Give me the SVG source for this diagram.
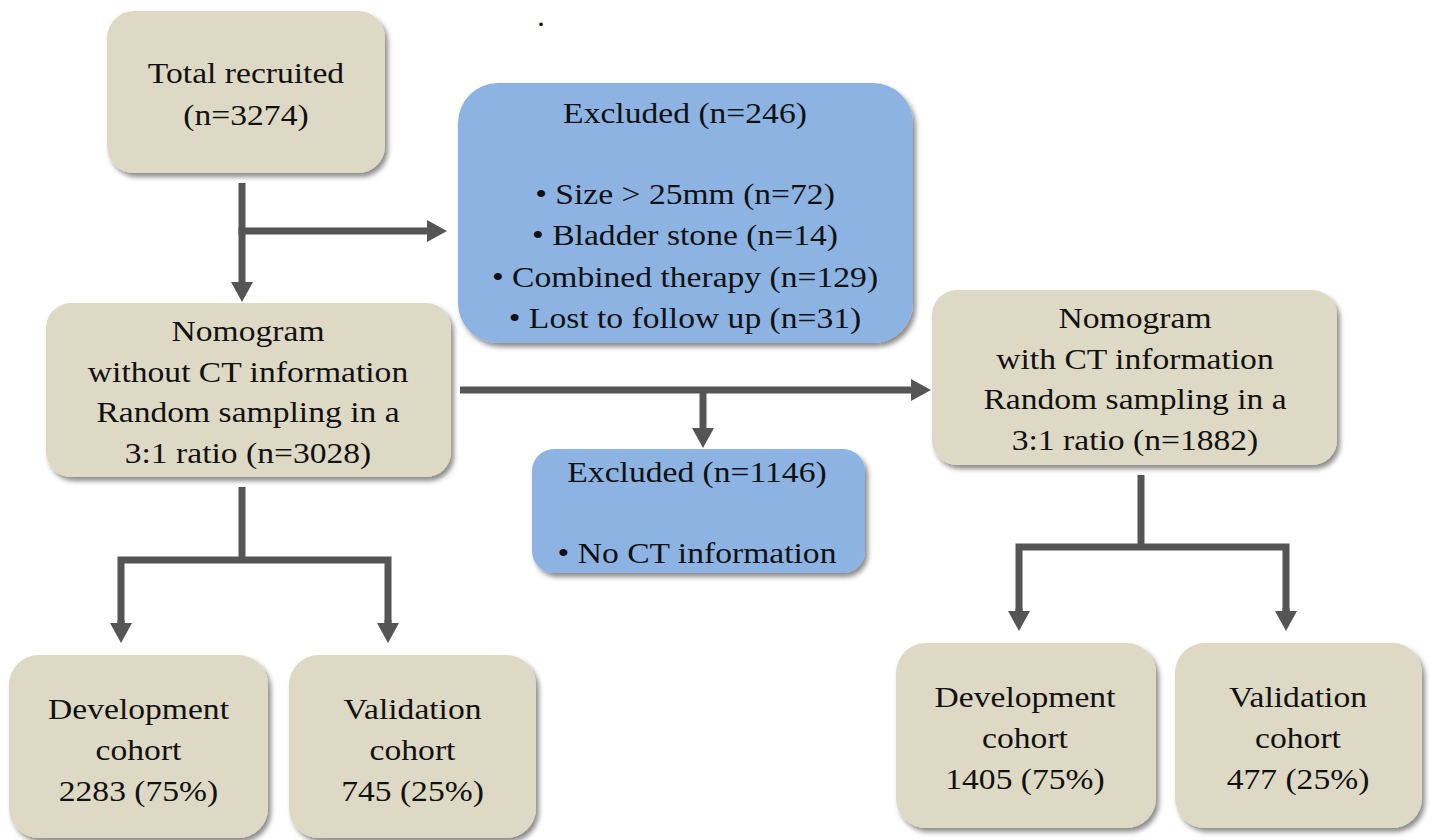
<svg xmlns="http://www.w3.org/2000/svg" width="1431" height="840" viewBox="0 0 1431 840">
<style>
.beige{fill:#DDD9C4;filter:url(#sh)}
.blue{fill:#8DB3E2;filter:url(#sh)}
text{font-family:"Liberation Serif","Times New Roman",serif;font-size:30px;fill:#111;text-anchor:middle}
.con{fill:none;stroke:#555555;stroke-width:7;stroke-linejoin:miter;stroke-linecap:butt}
</style>
<defs>
<filter id="sh" x="-10%" y="-10%" width="125%" height="130%">
<feDropShadow dx="3" dy="4" stdDeviation="2.5" flood-color="#000" flood-opacity="0.45"/>
</filter>
<marker id="ah" markerUnits="userSpaceOnUse" markerWidth="22" markerHeight="22" viewBox="0 0 20 22" refX="1" refY="11" orient="auto">
<path d="M0,0 L20,11 L0,22 z" fill="#555555"/>
</marker>
</defs>
<rect width="1431" height="840" fill="#fff"/>
<text x="541" y="26">.</text>

<g id="connectors">
<path class="con" d="M242,183 V283" marker-end="url(#ah)"/>
<path class="con" d="M238.5,231 H428" marker-end="url(#ah)"/>
<path class="con" d="M460,390 H912" marker-end="url(#ah)"/>
<path class="con" d="M703,390 V429" marker-end="url(#ah)"/>
<path class="con" d="M242,487 V560"/>
<path class="con" d="M121,624 V560 H388 V624"/>
<path class="con" d="M121,620 V624" marker-end="url(#ah)"/>
<path class="con" d="M388,620 V624" marker-end="url(#ah)"/>
<path class="con" d="M1141,475 V547"/>
<path class="con" d="M1019,612 V547 H1286 V612"/>
<path class="con" d="M1019,608 V612" marker-end="url(#ah)"/>
<path class="con" d="M1286,608 V612" marker-end="url(#ah)"/>
</g>

<g id="total">
<rect class="beige" x="107" y="11" width="278" height="162" rx="27"/>
<g transform="translate(246,0) scale(1.12,1)">
<text x="0" y="83">Total recruited</text>
<text x="0" y="125">(n=3274)</text>
</g>
</g>

<g id="excluded1">
<rect class="blue" x="458" y="83" width="455" height="260" rx="40"/>
<g transform="translate(685,0) scale(1.12,1)">
<text x="0" y="123">Excluded (n=246)</text>
<text x="0" y="204">• Size &gt; 25mm (n=72)</text>
<text x="0" y="245">• Bladder stone (n=14)</text>
<text x="0" y="287">• Combined therapy (n=129)</text>
<text x="0" y="328">• Lost to follow up (n=31)</text>
</g>
</g>

<g id="nomo1">
<rect class="beige" x="46" y="303" width="405" height="174" rx="25"/>
<g transform="translate(248,0) scale(1.12,1)">
<text x="0" y="341">Nomogram</text>
<text x="0" y="382">without CT information</text>
<text x="0" y="422">Random sampling in a</text>
<text x="0" y="463">3:1 ratio (n=3028)</text>
</g>
</g>

<g id="excluded2">
<rect class="blue" x="532" y="449" width="333" height="124" rx="22"/>
<g transform="translate(697,0) scale(1.12,1)">
<text x="0" y="482">Excluded (n=1146)</text>
<text x="0" y="563">• No CT information</text>
</g>
</g>

<g id="nomo2">
<rect class="beige" x="932" y="290" width="405" height="175" rx="25"/>
<g transform="translate(1135,0) scale(1.12,1)">
<text x="0" y="328">Nomogram</text>
<text x="0" y="369">with CT information</text>
<text x="0" y="409">Random sampling in a</text>
<text x="0" y="450">3:1 ratio (n=1882)</text>
</g>
</g>

<g id="dev1">
<rect class="beige" x="9" y="655" width="259" height="183" rx="30"/>
<g transform="translate(138.5,0) scale(1.12,1)">
<text x="0" y="719">Development</text>
<text x="0" y="760">cohort</text>
<text x="0" y="801">2283 (75%)</text>
</g>
</g>

<g id="val1">
<rect class="beige" x="289" y="655" width="247" height="183" rx="30"/>
<g transform="translate(412.5,0) scale(1.12,1)">
<text x="0" y="719">Validation</text>
<text x="0" y="760">cohort</text>
<text x="0" y="801">745 (25%)</text>
</g>
</g>

<g id="dev2">
<rect class="beige" x="896" y="643" width="260" height="185" rx="30"/>
<g transform="translate(1025,0) scale(1.12,1)">
<text x="0" y="707">Development</text>
<text x="0" y="748">cohort</text>
<text x="0" y="789">1405 (75%)</text>
</g>
</g>

<g id="val2">
<rect class="beige" x="1175" y="643" width="247" height="185" rx="30"/>
<g transform="translate(1298,0) scale(1.12,1)">
<text x="0" y="707">Validation</text>
<text x="0" y="748">cohort</text>
<text x="0" y="789">477 (25%)</text>
</g>
</g>
</svg>
